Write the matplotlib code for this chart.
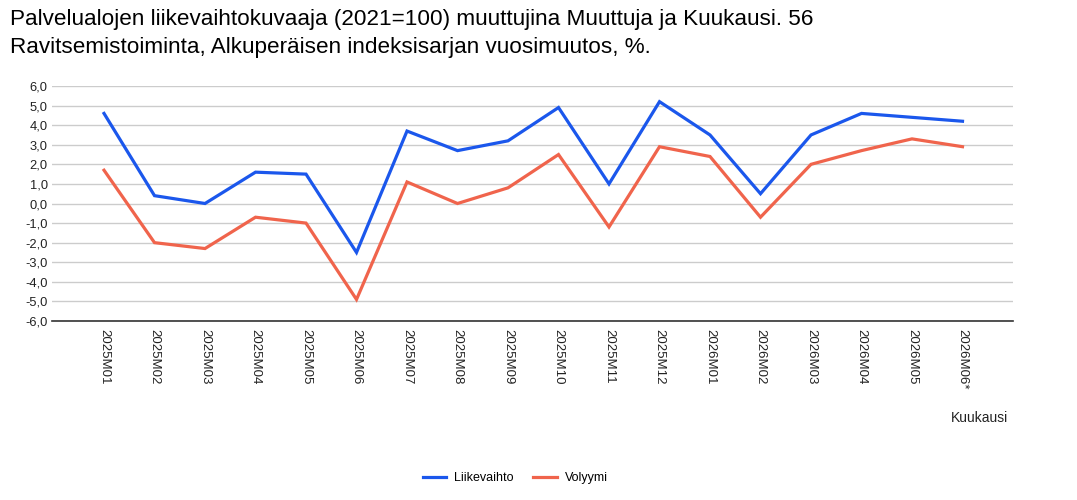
import matplotlib
matplotlib.use("Agg")
import matplotlib.pyplot as plt
from matplotlib.lines import Line2D

plt.rcParams['font.family'] = ['Liberation Sans', 'DejaVu Sans']

months = ["2025M01", "2025M02", "2025M03", "2025M04", "2025M05", "2025M06",
          "2025M07", "2025M08", "2025M09", "2025M10", "2025M11", "2025M12",
          "2026M01", "2026M02", "2026M03", "2026M04", "2026M05", "2026M06*"]
liikevaihto = [4.6, 0.4, 0.0, 1.6, 1.5, -2.5, 3.7, 2.7, 3.2, 4.9, 1.0, 5.2,
               3.5, 0.5, 3.5, 4.6, 4.4, 4.2]
volyymi = [1.7, -2.0, -2.3, -0.7, -1.0, -4.9, 1.1, 0.0, 0.8, 2.5, -1.2, 2.9,
           2.4, -0.7, 2.0, 2.7, 3.3, 2.9]
yticks = [-6, -5, -4, -3, -2, -1, 0, 1, 2, 3, 4, 5, 6]

blue = "#1b57ec"
red = "#f0644c"

fig = plt.figure(figsize=(10.77, 5.0), dpi=100)
ax = fig.add_axes([52/1077, 1 - 321/500, (1013-52)/1077, (321-86)/500])

x = list(range(len(months)))
ax.plot(x, liikevaihto, color=blue, lw=2.3, solid_joinstyle='miter', zorder=3)
ax.plot(x, volyymi, color=red, lw=2.3, solid_joinstyle='miter', zorder=3)

ax.set_ylim(-6, 6)
ax.set_xlim(-1.03, 18.0)
ax.set_yticks(yticks)
ax.set_yticklabels([f"{v:.1f}".replace(".", ",") for v in yticks], fontsize=9.3, color="#222222")
ax.yaxis.grid(True, color="#cccccc", lw=1)
ax.set_axisbelow(True)
ax.set_xticks(x)
ax.set_xticklabels(months, rotation=-90, fontsize=9.5, color="#222222", va="top", ha="center")
ax.tick_params(axis='both', length=0)
ax.tick_params(axis='x', pad=6)
ax.tick_params(axis='y', pad=3)
for s in ["top", "right", "left"]:
    ax.spines[s].set_visible(False)
ax.spines["bottom"].set_color("#333333")
ax.spines["bottom"].set_linewidth(1.2)
ax.spines["bottom"].set_zorder(4)

fig.text(10/1077, 1 - 20/500, "Palvelualojen liikevaihtokuvaaja (2021=100) muuttujina Muuttuja ja Kuukausi. 56",
         fontsize=16.2, va="center", ha="left", color="#000000")
fig.text(10/1077, 1 - 48/500, "Ravitsemistoiminta, Alkuperäisen indeksisarjan vuosimuutos, %.",
         fontsize=16.2, va="center", ha="left", color="#000000")
fig.text(1008/1077, 1 - 418/500, "Kuukausi", fontsize=10, ha="right", va="center", color="#222222")

handles = [Line2D([], [], color=blue, lw=2.3), Line2D([], [], color=red, lw=2.3)]
fig.legend(handles, ["Liikevaihto", "Volyymi"], loc="center", bbox_to_anchor=(515/1077, 1 - 478/500),
           ncol=2, frameon=False, fontsize=9, handlelength=1.9, columnspacing=1.6, handletextpad=0.6)

fig.savefig("out.png", dpi=100)
